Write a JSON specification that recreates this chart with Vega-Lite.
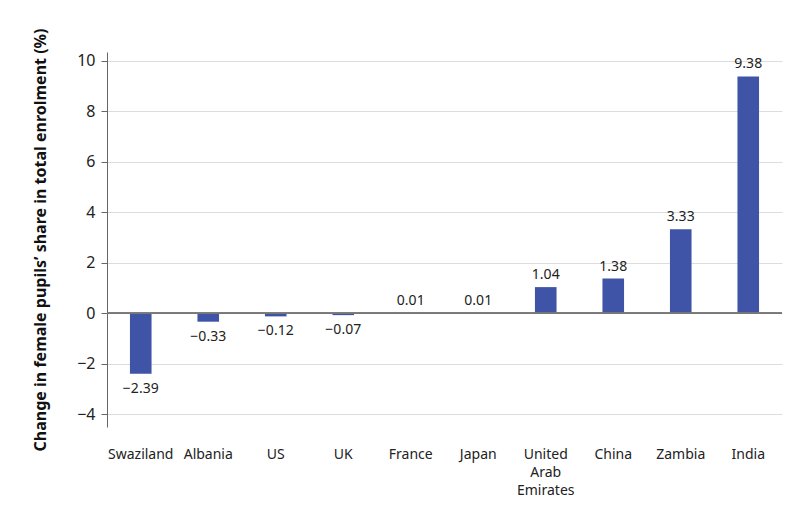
{
  "$schema": "https://vega.github.io/schema/vega-lite/v6.json",
  "width": 675,
  "height": 375,
  "autosize": {"type": "none"},
  "padding": {"left": 107, "top": 52, "right": 28, "bottom": 90},
  "background": "white",
  "data": {
    "values": [
      {"country": "Swaziland", "change": -2.39},
      {"country": "Albania", "change": -0.33},
      {"country": "US", "change": -0.12},
      {"country": "UK", "change": -0.07},
      {"country": "France", "change": 0.01},
      {"country": "Japan", "change": 0.01},
      {"country": "United Arab Emirates", "change": 1.04},
      {"country": "China", "change": 1.38},
      {"country": "Zambia", "change": 3.33},
      {"country": "India", "change": 9.38}
    ]
  },
  "encoding": {
    "x": {
      "field": "country",
      "type": "nominal",
      "sort": null,
      "scale": {"paddingInner": 0.68, "paddingOuter": 0.34},
      "axis": {
        "title": null,
        "domain": false,
        "ticks": false,
        "labelAngle": 0,
        "labelPadding": 20,
        "labelFont": "Noto Sans",
        "labelFontSize": 14,
        "labelColor": "#222222",
        "labelLineHeight": 18,
        "labelExpr": "datum.value == 'United Arab Emirates' ? ['United', 'Arab', 'Emirates'] : datum.value"
      }
    },
    "y": {
      "field": "change",
      "type": "quantitative",
      "scale": {"domain": [-4.5, 10.35], "nice": false, "zero": false}
    }
  },
  "layer": [
    {
      "mark": {"type": "bar", "color": "#3f54a6"},
      "encoding": {
        "y": {
          "field": "change",
          "type": "quantitative",
          "axis": {
            "values": [-4, -2, 0, 2, 4, 6, 8, 10],
            "title": "Change in female pupils’ share in total enrolment (%)",
            "titleFont": "Noto Sans",
            "titleFontSize": 16,
            "titleFontWeight": "bold",
            "titleColor": "#111111",
            "titlePadding": 28,
            "labelFont": "Noto Sans",
            "labelFontSize": 16,
            "labelColor": "#222222",
            "labelPadding": 6,
            "domainColor": "#666666",
            "tickColor": "#666666",
            "tickSize": 6,
            "grid": true,
            "gridColor": "#dddddd"
          }
        }
      }
    },
    {
      "mark": {"type": "rule", "color": "#777777", "strokeWidth": 1.2},
      "encoding": {"y": {"datum": 0, "type": "quantitative"}, "x": {"value": 0}, "x2": {"value": 675}}
    },
    {
      "transform": [{"filter": "datum.change >= 0"}],
      "mark": {"type": "text", "font": "Noto Sans", "fontSize": 14, "color": "#222222", "baseline": "bottom", "dy": -5},
      "encoding": {
        "text": {"field": "change", "type": "quantitative", "format": ".2f"}
      }
    },
    {
      "transform": [{"filter": "datum.change < 0"}],
      "mark": {"type": "text", "font": "Noto Sans", "fontSize": 14, "color": "#222222", "baseline": "top", "dy": 8},
      "encoding": {
        "text": {"field": "change", "type": "quantitative", "format": ".2f"}
      }
    }
  ],
  "config": {"view": {"stroke": null}}
}
